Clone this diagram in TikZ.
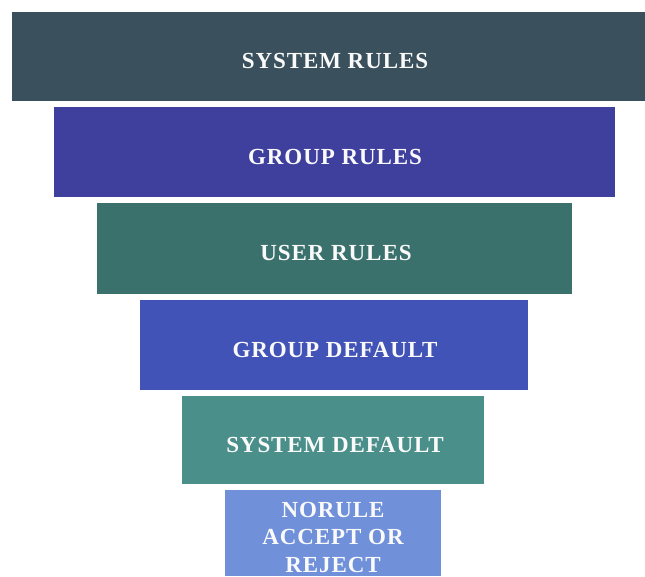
\documentclass[tikz,border=0pt]{standalone}
\usepackage{fontspec}
\setmainfont{Liberation Serif}[LetterSpace=4]
\definecolor{cA}{HTML}{3A505C}
\definecolor{cB}{HTML}{3F3F9E}
\definecolor{cC}{HTML}{3A716D}
\definecolor{cD}{HTML}{4153B6}
\definecolor{cE}{HTML}{4B8F8A}
\definecolor{cF}{HTML}{7090DA}
\tikzset{
  bar/.style={draw=none},
  lbl/.style={text=white!96!gray, font=\bfseries\fontsize{23}{27.5}\selectfont, align=center, inner sep=0pt}
}
\begin{document}
\begin{tikzpicture}[x=1pt,y=1pt]
\useasboundingbox (0,0) rectangle (645,576);
\fill[cA] (12,564) rectangle (645,475);
\fill[cB] (54,469) rectangle (615,379);
\fill[cC] (97,373) rectangle (572,282);
\fill[cD] (140,276) rectangle (528,186);
\fill[cE] (182,180) rectangle (484,92);
\fill[cF] (225,86) rectangle (441,0);
\node[lbl] (t1) at (335,515) {SYSTEM RULES};
\node[lbl] (t2) at (335,419) {GROUP RULES};
\node[lbl] (t3) at (336,323) {USER RULES};
\node[lbl] (t4) at (335,226) {GROUP DEFAULT};
\node[lbl] (t5) at (335,131) {SYSTEM DEFAULT};
\node[lbl] (t6) at (333,39) {NORULE\\ACCEPT OR\\REJECT};
\end{tikzpicture}
\end{document}
